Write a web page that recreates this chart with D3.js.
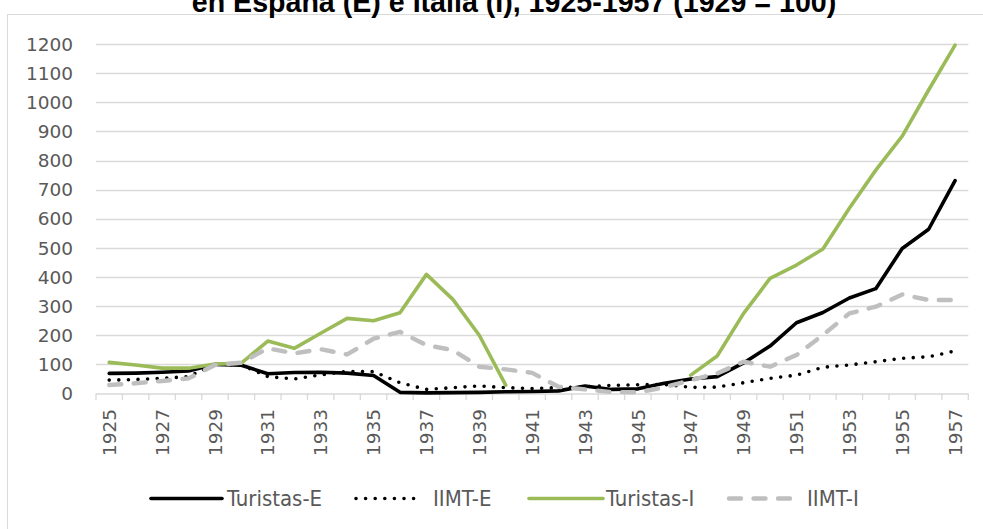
<!DOCTYPE html>
<html>
<head>
<meta charset="utf-8">
<script src="https://cdn.jsdelivr.net/npm/d3@7/dist/d3.min.js"></script>
<style>
  html, body { margin: 0; padding: 0; background: #fff; }
  svg { display: block; }
</style>
</head>
<body>
<svg id="chart" width="983" height="529"></svg>
<script>
const years = [1925,1926,1927,1928,1929,1930,1931,1932,1933,1934,1935,1936,1937,1938,1939,1940,1941,1942,1943,1944,1945,1946,1947,1948,1949,1950,1951,1952,1953,1954,1955,1956,1957];
const turistasE = [69,70,73,77,100,97,68,72,73,70,62,4,2,3,4,6,7,9,26,14,16,35,50,58,105,163,243,278,328,360,498,564,731];
const iimtE = [46,48,52,58,100,98,58,50,64,76,75,37,14,20,26,20,17,20,23,28,30,31,21,22,37,52,63,90,98,109,121,126,146];
const turistasI = [107,98,87,87,101,104,180,155,207,258,250,277,409,323,200,29,null,null,null,null,null,null,63,129,275,395,441,496,636,767,884,1042,1196];
const iimtI = [29,35,43,52,98,106,155,138,152,134,188,212,166,149,92,83,71,23,14,5,4,21,46,69,109,92,132,201,275,298,340,321,321];
const yTicks = [0,100,200,300,400,500,600,700,800,900,1000,1100,1200];
const xTickLabels = [1925,1927,1929,1931,1933,1935,1937,1939,1941,1943,1945,1947,1949,1951,1953,1955,1957];
const seriesNames = ["Turistas-E","IIMT-E","Turistas-I","IIMT-I"];
const titleText = "en España (E) e Italia (I), 1925-1957 (1929 = 100)";

const svg = d3.select("#chart");
const W = 983, H = 529;
svg.append("rect").attr("width", W).attr("height", H).attr("fill", "#fff");
// chart border
svg.append("rect").attr("x", 7.5).attr("y", 14.5).attr("width", 1000).attr("height", 540)
   .attr("fill", "none").attr("stroke", "#d9d9d9").attr("stroke-width", 1);

const plot = {left: 96, right: 968.3, top: 44, bottom: 393.5};
const x = d3.scaleBand().domain(years).range([plot.left, plot.right]).padding(0);
const y = d3.scaleLinear().domain([0, 1200]).range([plot.bottom, plot.top]);
const cx = d => x(d) + x.bandwidth() / 2;

// gridlines
svg.append("g").selectAll("line").data(yTicks.filter(t => t > 0)).join("line")
  .attr("x1", plot.left).attr("x2", plot.right)
  .attr("y1", d => Math.round(y(d)) + 0.5).attr("y2", d => Math.round(y(d)) + 0.5)
  .attr("stroke", "#d9d9d9").attr("stroke-width", 1.3);

// y labels
svg.append("g").selectAll("text").data(yTicks).join("text")
  .attr("x", 73).attr("y", d => y(d)).attr("dy", "0.36em")
  .attr("text-anchor", "end")
  .attr("font-family", "DejaVu Sans, sans-serif").attr("font-size", 18.5)
  .attr("fill", "#595959").text(d => d);

// x axis line
svg.append("line").attr("x1", plot.left).attr("x2", plot.right)
  .attr("y1", plot.bottom + 0.5).attr("y2", plot.bottom + 0.5)
  .attr("stroke", "#d9d9d9").attr("stroke-width", 1.3);
// ticks at category boundaries
const bounds = years.map(d => x(d)).concat([x(years[years.length - 1]) + x.bandwidth()]);
svg.append("g").selectAll("line").data(bounds).join("line")
  .attr("x1", d => d).attr("x2", d => d)
  .attr("y1", plot.bottom).attr("y2", plot.bottom + 6.5)
  .attr("stroke", "#d9d9d9").attr("stroke-width", 1.3);

// x labels
svg.append("g").selectAll("text").data(xTickLabels).join("text")
  .attr("transform", d => `translate(${cx(d)},409) rotate(-90)`)
  .attr("dy", "0.36em")
  .attr("text-anchor", "end")
  .attr("font-family", "DejaVu Sans, sans-serif").attr("font-size", 18.5)
  .attr("fill", "#595959").text(d => d);

// series
const styles = [
  {stroke: "#000000", width: 3.6, dash: null, cap: "round"},
  {stroke: "#000000", width: 3.6, dash: "0,9.6", cap: "round"},
  {stroke: "#9bbb59", width: 3.6, dash: null, cap: "round"},
  {stroke: "#bfbfbf", width: 4.4, dash: "12,12.5", cap: "round"}
];
const data = [turistasE, iimtE, turistasI, iimtI];
const line = d3.line()
  .defined(d => d[1] !== null)
  .x(d => cx(d[0])).y(d => y(d[1]));

data.forEach((vals, i) => {
  const s = styles[i];
  svg.append("path")
    .datum(years.map((yr, j) => [yr, vals[j]]))
    .attr("d", line)
    .attr("fill", "none")
    .attr("stroke", s.stroke).attr("stroke-width", s.width)
    .attr("stroke-linejoin", "round").attr("stroke-linecap", s.cap)
    .attr("stroke-dasharray", s.dash);
});

// legend
const legendY = 498.5;
const legendItems = [
  {x1: 151, x2: 222, tx: 227},
  {x1: 356, x2: 419, tx: 433},
  {x1: 529, x2: 603, tx: 606},
  {x1: 729, x2: 794, tx: 807}
];
legendItems.forEach((it, i) => {
  const s = styles[i];
  svg.append("line").attr("x1", it.x1).attr("x2", it.x2)
    .attr("y1", legendY).attr("y2", legendY)
    .attr("stroke", s.stroke).attr("stroke-width", s.width)
    .attr("stroke-linecap", s.cap).attr("stroke-dasharray", s.dash);
  svg.append("text").attr("x", it.tx).attr("y", 506)
    .attr("font-family", "DejaVu Sans Condensed, DejaVu Sans, sans-serif")
    .attr("font-stretch", "condensed")
    .attr("font-size", 22).attr("fill", "#595959").text(seriesNames[i]);
});

// title (second line, partly cut at top as in the source image)
svg.append("text").attr("x", 514).attr("y", 11.5)
  .attr("text-anchor", "middle")
  .attr("font-family", "Liberation Sans, Arial, sans-serif")
  .attr("font-weight", "bold").attr("font-size", 28.6)
  .attr("fill", "#000").text(titleText);
</script>
</body>
</html>
